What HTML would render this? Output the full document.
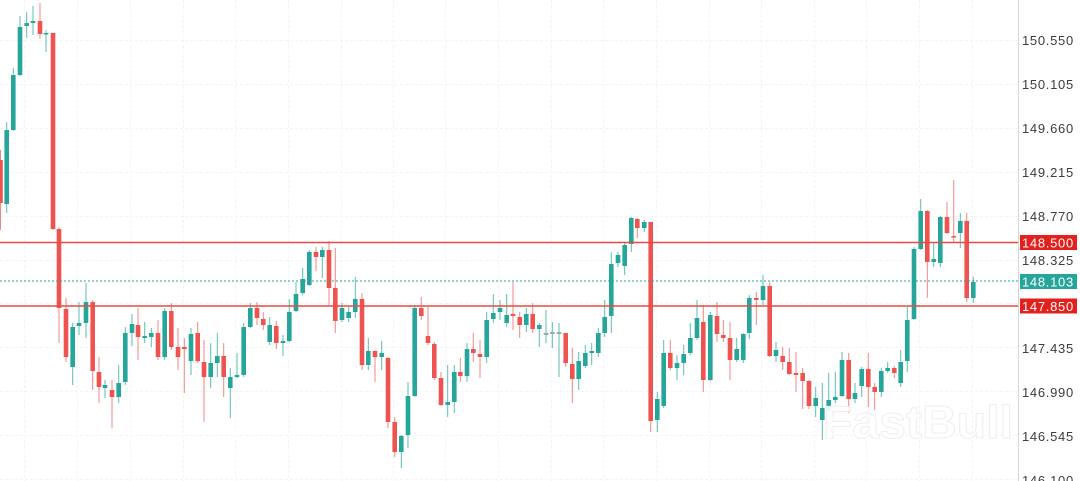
<!DOCTYPE html>
<html>
<head>
<meta charset="utf-8">
<style>
html,body{margin:0;padding:0;background:#fff;}
body{width:1080px;height:481px;overflow:hidden;}
svg{display:block;}
.lbl{font-family:"Liberation Sans",sans-serif;font-size:13px;fill:#3c3c3c;letter-spacing:0.7px;}
.tag{font-family:"Liberation Sans",sans-serif;font-size:13px;fill:#fff;letter-spacing:0.7px;}
</style>
</head>
<body>
<svg width="1080" height="481" viewBox="0 0 1080 481" xmlns="http://www.w3.org/2000/svg">
<rect x="0" y="0" width="1080" height="481" fill="#fff"/>
<g stroke="#f4f4f4" stroke-width="1" stroke-dasharray="3,2">
<line x1="0" y1="40.5" x2="1018" y2="40.5"/>
<line x1="0" y1="84.5" x2="1018" y2="84.5"/>
<line x1="0" y1="128.5" x2="1018" y2="128.5"/>
<line x1="0" y1="172.5" x2="1018" y2="172.5"/>
<line x1="0" y1="216.5" x2="1018" y2="216.5"/>
<line x1="0" y1="260.5" x2="1018" y2="260.5"/>
<line x1="0" y1="303.5" x2="1018" y2="303.5"/>
<line x1="0" y1="347.5" x2="1018" y2="347.5"/>
<line x1="0" y1="391.5" x2="1018" y2="391.5"/>
<line x1="0" y1="435.5" x2="1018" y2="435.5"/>
<line x1="0" y1="479.5" x2="1018" y2="479.5"/>
<line x1="24.5" y1="0" x2="24.5" y2="481"/>
<line x1="77.5" y1="0" x2="77.5" y2="481"/>
<line x1="130.5" y1="0" x2="130.5" y2="481"/>
<line x1="183.5" y1="0" x2="183.5" y2="481"/>
<line x1="235.5" y1="0" x2="235.5" y2="481"/>
<line x1="288.5" y1="0" x2="288.5" y2="481"/>
<line x1="341.5" y1="0" x2="341.5" y2="481"/>
<line x1="393.5" y1="0" x2="393.5" y2="481"/>
<line x1="445.5" y1="0" x2="445.5" y2="481"/>
<line x1="498.5" y1="0" x2="498.5" y2="481"/>
<line x1="551.5" y1="0" x2="551.5" y2="481"/>
<line x1="603.5" y1="0" x2="603.5" y2="481"/>
<line x1="656.5" y1="0" x2="656.5" y2="481"/>
<line x1="709.5" y1="0" x2="709.5" y2="481"/>
<line x1="761.5" y1="0" x2="761.5" y2="481"/>
<line x1="814.5" y1="0" x2="814.5" y2="481"/>
<line x1="866.5" y1="0" x2="866.5" y2="481"/>
<line x1="919.5" y1="0" x2="919.5" y2="481"/>
<line x1="972.5" y1="0" x2="972.5" y2="481"/>
</g>
<g fill="#26a69a" stroke="#26a69a">
<g stroke-width="1" fill="none" stroke-opacity="0.75">
<line x1="6.7" y1="122" x2="6.7" y2="213"/>
<line x1="13.3" y1="68" x2="13.3" y2="131"/>
<line x1="20" y1="16" x2="20" y2="76"/>
<line x1="26.7" y1="12" x2="26.7" y2="38"/>
<line x1="33" y1="6" x2="33" y2="35"/>
<line x1="46" y1="30" x2="46" y2="52"/>
<line x1="72.7" y1="323" x2="72.7" y2="385"/>
<line x1="79" y1="302" x2="79" y2="335"/>
<line x1="86" y1="283" x2="86" y2="338"/>
<line x1="105" y1="380" x2="105" y2="398"/>
<line x1="118.7" y1="365" x2="118.7" y2="403"/>
<line x1="125.3" y1="327" x2="125.3" y2="385"/>
<line x1="132" y1="314" x2="132" y2="346"/>
<line x1="144.7" y1="322" x2="144.7" y2="343"/>
<line x1="151.3" y1="328" x2="151.3" y2="347"/>
<line x1="164.7" y1="308" x2="164.7" y2="360"/>
<line x1="191" y1="328" x2="191" y2="375"/>
<line x1="210.7" y1="343" x2="210.7" y2="388"/>
<line x1="217.3" y1="333" x2="217.3" y2="377"/>
<line x1="230.3" y1="368" x2="230.3" y2="418"/>
<line x1="237" y1="353" x2="237" y2="378"/>
<line x1="243.7" y1="323" x2="243.7" y2="377"/>
<line x1="250.3" y1="303" x2="250.3" y2="328"/>
<line x1="269.7" y1="317" x2="269.7" y2="345"/>
<line x1="283" y1="335" x2="283" y2="356"/>
<line x1="289.3" y1="299" x2="289.3" y2="342"/>
<line x1="296" y1="282" x2="296" y2="312"/>
<line x1="302.7" y1="268" x2="302.7" y2="295"/>
<line x1="309.3" y1="250" x2="309.3" y2="286"/>
<line x1="322.3" y1="247" x2="322.3" y2="278"/>
<line x1="342" y1="303" x2="342" y2="322"/>
<line x1="348.7" y1="307" x2="348.7" y2="322"/>
<line x1="355.3" y1="277" x2="355.3" y2="318"/>
<line x1="368.3" y1="338" x2="368.3" y2="370"/>
<line x1="381.7" y1="341" x2="381.7" y2="370"/>
<line x1="401.3" y1="435" x2="401.3" y2="468"/>
<line x1="408" y1="382" x2="408" y2="448"/>
<line x1="414.7" y1="305" x2="414.7" y2="397"/>
<line x1="447.7" y1="365" x2="447.7" y2="417"/>
<line x1="454.3" y1="365" x2="454.3" y2="413"/>
<line x1="467" y1="343" x2="467" y2="382"/>
<line x1="486.7" y1="312" x2="486.7" y2="363"/>
<line x1="493.3" y1="294" x2="493.3" y2="323"/>
<line x1="500" y1="300" x2="500" y2="320"/>
<line x1="506.7" y1="294" x2="506.7" y2="327"/>
<line x1="526.3" y1="308" x2="526.3" y2="332"/>
<line x1="539.3" y1="323" x2="539.3" y2="347"/>
<line x1="546" y1="310" x2="546" y2="343"/>
<line x1="552.3" y1="322" x2="552.3" y2="348"/>
<line x1="559" y1="323" x2="559" y2="377"/>
<line x1="578.7" y1="352" x2="578.7" y2="390"/>
<line x1="585.3" y1="345" x2="585.3" y2="368"/>
<line x1="591.7" y1="343" x2="591.7" y2="365"/>
<line x1="598.3" y1="328" x2="598.3" y2="357"/>
<line x1="604.7" y1="300" x2="604.7" y2="337"/>
<line x1="611.3" y1="252" x2="611.3" y2="333"/>
<line x1="618" y1="252" x2="618" y2="267"/>
<line x1="624.7" y1="242" x2="624.7" y2="275"/>
<line x1="631.3" y1="217" x2="631.3" y2="252"/>
<line x1="644.3" y1="220" x2="644.3" y2="232"/>
<line x1="657.3" y1="392" x2="657.3" y2="432"/>
<line x1="663.7" y1="340" x2="663.7" y2="408"/>
<line x1="677" y1="355" x2="677" y2="380"/>
<line x1="683.7" y1="345" x2="683.7" y2="375"/>
<line x1="690.3" y1="323" x2="690.3" y2="355"/>
<line x1="697" y1="300" x2="697" y2="340"/>
<line x1="710.3" y1="312" x2="710.3" y2="381"/>
<line x1="736.7" y1="338" x2="736.7" y2="362"/>
<line x1="743.3" y1="333" x2="743.3" y2="363"/>
<line x1="749.3" y1="295" x2="749.3" y2="339"/>
<line x1="763" y1="275" x2="763" y2="305"/>
<line x1="776" y1="342" x2="776" y2="362"/>
<line x1="815.7" y1="387" x2="815.7" y2="417"/>
<line x1="822.3" y1="383" x2="822.3" y2="440"/>
<line x1="828.7" y1="373" x2="828.7" y2="412"/>
<line x1="835.3" y1="372" x2="835.3" y2="403"/>
<line x1="842" y1="352" x2="842" y2="397"/>
<line x1="855" y1="383" x2="855" y2="403"/>
<line x1="861.7" y1="367" x2="861.7" y2="397"/>
<line x1="881.3" y1="368" x2="881.3" y2="397"/>
<line x1="887.7" y1="362" x2="887.7" y2="373"/>
<line x1="900.7" y1="350" x2="900.7" y2="387"/>
<line x1="907.3" y1="307" x2="907.3" y2="372"/>
<line x1="914" y1="247" x2="914" y2="320"/>
<line x1="920.7" y1="199" x2="920.7" y2="250"/>
<line x1="933.7" y1="242" x2="933.7" y2="267"/>
<line x1="940.3" y1="216" x2="940.3" y2="267"/>
<line x1="960.3" y1="213" x2="960.3" y2="248"/>
<line x1="973.3" y1="277" x2="973.3" y2="303"/>
</g>
<g stroke="none">
<rect x="4.4" y="130" width="4.6" height="74"/>
<rect x="11.0" y="75" width="4.6" height="55"/>
<rect x="17.7" y="27" width="4.6" height="48"/>
<rect x="24.4" y="23" width="4.6" height="3"/>
<rect x="30.7" y="21" width="4.6" height="2"/>
<rect x="43.7" y="33" width="4.6" height="1.5"/>
<rect x="70.4" y="327" width="4.6" height="40"/>
<rect x="76.7" y="323" width="4.6" height="3"/>
<rect x="83.7" y="302" width="4.6" height="21"/>
<rect x="102.7" y="385" width="4.6" height="3"/>
<rect x="116.4" y="383" width="4.6" height="14"/>
<rect x="123.0" y="333" width="4.6" height="49"/>
<rect x="129.7" y="324" width="4.6" height="9"/>
<rect x="142.4" y="336" width="4.6" height="2"/>
<rect x="149.0" y="333" width="4.6" height="4"/>
<rect x="162.4" y="311" width="4.6" height="46"/>
<rect x="188.7" y="334" width="4.6" height="27"/>
<rect x="208.4" y="363" width="4.6" height="14"/>
<rect x="215.0" y="356" width="4.6" height="7"/>
<rect x="228.0" y="377" width="4.6" height="11"/>
<rect x="234.7" y="375" width="4.6" height="2"/>
<rect x="241.4" y="327" width="4.6" height="48"/>
<rect x="248.0" y="308" width="4.6" height="19"/>
<rect x="267.4" y="325" width="4.6" height="17"/>
<rect x="280.7" y="341" width="4.6" height="2"/>
<rect x="287.0" y="312" width="4.6" height="29"/>
<rect x="293.7" y="294" width="4.6" height="17"/>
<rect x="300.4" y="279" width="4.6" height="14"/>
<rect x="307.0" y="252" width="4.6" height="33"/>
<rect x="320.0" y="250" width="4.6" height="7"/>
<rect x="339.7" y="308" width="4.6" height="12"/>
<rect x="346.4" y="312" width="4.6" height="6"/>
<rect x="353.0" y="299" width="4.6" height="13"/>
<rect x="366.0" y="351" width="4.6" height="14"/>
<rect x="379.4" y="353" width="4.6" height="4"/>
<rect x="399.0" y="436" width="4.6" height="16"/>
<rect x="405.7" y="396" width="4.6" height="39"/>
<rect x="412.4" y="308" width="4.6" height="88"/>
<rect x="445.4" y="402" width="4.6" height="3"/>
<rect x="452.0" y="372" width="4.6" height="30"/>
<rect x="464.7" y="349" width="4.6" height="27"/>
<rect x="484.4" y="320" width="4.6" height="37"/>
<rect x="491.0" y="313" width="4.6" height="6"/>
<rect x="497.7" y="308" width="4.6" height="4"/>
<rect x="504.4" y="315" width="4.6" height="8"/>
<rect x="524.0" y="314" width="4.6" height="11"/>
<rect x="537.0" y="325" width="4.6" height="4"/>
<rect x="543.7" y="333" width="4.6" height="2" fill="#9aa"/>
<rect x="550.0" y="332" width="4.6" height="2" fill="#9aa"/>
<rect x="556.7" y="332" width="4.6" height="2" fill="#9aa"/>
<rect x="576.4" y="361" width="4.6" height="18"/>
<rect x="583.0" y="353" width="4.6" height="13"/>
<rect x="589.4" y="351" width="4.6" height="2"/>
<rect x="596.0" y="333" width="4.6" height="20"/>
<rect x="602.4" y="317" width="4.6" height="16"/>
<rect x="609.0" y="264" width="4.6" height="52"/>
<rect x="615.7" y="255" width="4.6" height="8"/>
<rect x="622.4" y="245" width="4.6" height="21"/>
<rect x="629.0" y="218" width="4.6" height="26"/>
<rect x="642.0" y="222" width="4.6" height="6"/>
<rect x="655.0" y="399" width="4.6" height="21"/>
<rect x="661.4" y="353" width="4.6" height="53"/>
<rect x="674.7" y="363" width="4.6" height="5"/>
<rect x="681.4" y="354" width="4.6" height="9"/>
<rect x="688.0" y="338" width="4.6" height="15"/>
<rect x="694.7" y="318" width="4.6" height="20"/>
<rect x="708.0" y="315" width="4.6" height="65"/>
<rect x="734.4" y="349" width="4.6" height="11"/>
<rect x="741.0" y="334" width="4.6" height="26"/>
<rect x="747.0" y="298" width="4.6" height="35"/>
<rect x="760.7" y="286" width="4.6" height="14"/>
<rect x="773.7" y="350" width="4.6" height="6"/>
<rect x="813.4" y="398" width="4.6" height="8"/>
<rect x="820.0" y="408" width="4.6" height="12"/>
<rect x="826.4" y="400" width="4.6" height="10"/>
<rect x="833.0" y="397" width="4.6" height="3"/>
<rect x="839.7" y="360" width="4.6" height="36"/>
<rect x="852.7" y="393" width="4.6" height="6"/>
<rect x="859.4" y="369" width="4.6" height="17"/>
<rect x="879.0" y="371" width="4.6" height="21"/>
<rect x="885.4" y="368" width="4.6" height="3"/>
<rect x="898.4" y="362" width="4.6" height="21"/>
<rect x="905.0" y="320" width="4.6" height="41"/>
<rect x="911.7" y="249" width="4.6" height="70"/>
<rect x="918.4" y="211" width="4.6" height="38"/>
<rect x="931.4" y="259" width="4.6" height="3"/>
<rect x="938.0" y="217" width="4.6" height="46"/>
<rect x="958.0" y="221" width="4.6" height="12"/>
<rect x="971.0" y="282" width="4.6" height="16"/>
</g>
</g>
<g fill="#ef5350" stroke="#ef5350">
<g stroke-width="1" fill="none" stroke-opacity="0.7">
<line x1="0.5" y1="150" x2="0.5" y2="230"/>
<line x1="40" y1="3" x2="40" y2="39"/>
<line x1="53" y1="33" x2="53" y2="230"/>
<line x1="59" y1="227" x2="59" y2="343"/>
<line x1="66" y1="298" x2="66" y2="362"/>
<line x1="92.7" y1="300" x2="92.7" y2="390"/>
<line x1="99" y1="357" x2="99" y2="403"/>
<line x1="112" y1="380" x2="112" y2="428"/>
<line x1="138" y1="308" x2="138" y2="360"/>
<line x1="158" y1="320" x2="158" y2="360"/>
<line x1="171.3" y1="303" x2="171.3" y2="350"/>
<line x1="178" y1="328" x2="178" y2="370"/>
<line x1="184.3" y1="338" x2="184.3" y2="393"/>
<line x1="197.7" y1="322" x2="197.7" y2="363"/>
<line x1="204" y1="340" x2="204" y2="422"/>
<line x1="223.7" y1="343" x2="223.7" y2="397"/>
<line x1="257" y1="302" x2="257" y2="325"/>
<line x1="263.3" y1="312" x2="263.3" y2="330"/>
<line x1="276.3" y1="321" x2="276.3" y2="349"/>
<line x1="316" y1="247" x2="316" y2="271"/>
<line x1="329" y1="241" x2="329" y2="305"/>
<line x1="335.3" y1="248" x2="335.3" y2="333"/>
<line x1="362" y1="293" x2="362" y2="370"/>
<line x1="375" y1="350" x2="375" y2="382"/>
<line x1="388" y1="357" x2="388" y2="428"/>
<line x1="394.7" y1="417" x2="394.7" y2="457"/>
<line x1="421.3" y1="297" x2="421.3" y2="320"/>
<line x1="428" y1="307" x2="428" y2="345"/>
<line x1="434.3" y1="342" x2="434.3" y2="380"/>
<line x1="441" y1="372" x2="441" y2="406"/>
<line x1="460.3" y1="358" x2="460.3" y2="382"/>
<line x1="473.3" y1="333" x2="473.3" y2="362"/>
<line x1="480" y1="340" x2="480" y2="378"/>
<line x1="513" y1="282" x2="513" y2="330"/>
<line x1="519.7" y1="312" x2="519.7" y2="338"/>
<line x1="532.7" y1="303" x2="532.7" y2="333"/>
<line x1="565.7" y1="333" x2="565.7" y2="367"/>
<line x1="572.3" y1="348" x2="572.3" y2="403"/>
<line x1="637.3" y1="218" x2="637.3" y2="238"/>
<line x1="650.7" y1="222" x2="650.7" y2="432"/>
<line x1="670.3" y1="340" x2="670.3" y2="370"/>
<line x1="703.3" y1="305" x2="703.3" y2="392"/>
<line x1="717" y1="302" x2="717" y2="342"/>
<line x1="723.3" y1="320" x2="723.3" y2="342"/>
<line x1="730" y1="322" x2="730" y2="380"/>
<line x1="756.3" y1="292" x2="756.3" y2="325"/>
<line x1="769.7" y1="282" x2="769.7" y2="357"/>
<line x1="782.7" y1="347" x2="782.7" y2="370"/>
<line x1="789.3" y1="348" x2="789.3" y2="375"/>
<line x1="796" y1="352" x2="796" y2="392"/>
<line x1="802.7" y1="368" x2="802.7" y2="409"/>
<line x1="809" y1="380" x2="809" y2="409"/>
<line x1="848.7" y1="353" x2="848.7" y2="413"/>
<line x1="868.3" y1="353" x2="868.3" y2="407"/>
<line x1="874.7" y1="383" x2="874.7" y2="410"/>
<line x1="894.3" y1="366" x2="894.3" y2="378"/>
<line x1="927.3" y1="210" x2="927.3" y2="298"/>
<line x1="947" y1="202" x2="947" y2="234"/>
<line x1="953.7" y1="180" x2="953.7" y2="243"/>
<line x1="966.7" y1="213" x2="966.7" y2="302"/>
</g>
<g stroke="none">
<rect x="-1.8" y="160" width="4.6" height="43"/>
<rect x="37.7" y="21" width="4.6" height="13"/>
<rect x="50.7" y="33" width="4.6" height="196"/>
<rect x="56.7" y="229" width="4.6" height="79"/>
<rect x="63.7" y="309" width="4.6" height="48"/>
<rect x="90.4" y="302" width="4.6" height="69"/>
<rect x="96.7" y="372" width="4.6" height="15"/>
<rect x="109.7" y="390" width="4.6" height="7"/>
<rect x="135.7" y="325" width="4.6" height="12"/>
<rect x="155.7" y="333" width="4.6" height="24"/>
<rect x="169.0" y="311" width="4.6" height="36"/>
<rect x="175.7" y="347" width="4.6" height="10"/>
<rect x="182.0" y="347" width="4.6" height="2"/>
<rect x="195.4" y="333" width="4.6" height="28"/>
<rect x="201.7" y="362" width="4.6" height="15"/>
<rect x="221.4" y="356" width="4.6" height="21"/>
<rect x="254.7" y="308" width="4.6" height="10"/>
<rect x="261.0" y="319" width="4.6" height="6"/>
<rect x="274.0" y="326" width="4.6" height="17"/>
<rect x="313.7" y="252" width="4.6" height="5"/>
<rect x="326.7" y="250" width="4.6" height="38"/>
<rect x="333.0" y="288" width="4.6" height="33"/>
<rect x="359.7" y="299" width="4.6" height="66"/>
<rect x="372.7" y="351" width="4.6" height="6"/>
<rect x="385.7" y="358" width="4.6" height="64"/>
<rect x="392.4" y="422" width="4.6" height="30"/>
<rect x="419.0" y="308" width="4.6" height="8"/>
<rect x="425.7" y="336" width="4.6" height="7"/>
<rect x="432.0" y="344" width="4.6" height="34"/>
<rect x="438.7" y="378" width="4.6" height="27"/>
<rect x="458.0" y="372" width="4.6" height="4"/>
<rect x="471.0" y="349" width="4.6" height="4"/>
<rect x="477.7" y="354" width="4.6" height="3"/>
<rect x="510.7" y="314" width="4.6" height="2"/>
<rect x="517.4" y="317" width="4.6" height="8"/>
<rect x="530.4" y="314" width="4.6" height="15"/>
<rect x="563.4" y="333" width="4.6" height="30"/>
<rect x="570.0" y="364" width="4.6" height="15"/>
<rect x="635.0" y="219" width="4.6" height="9"/>
<rect x="648.4" y="222" width="4.6" height="199"/>
<rect x="668.0" y="353" width="4.6" height="15"/>
<rect x="701.0" y="322" width="4.6" height="58"/>
<rect x="714.7" y="316" width="4.6" height="18"/>
<rect x="721.0" y="335" width="4.6" height="3"/>
<rect x="727.7" y="338" width="4.6" height="22"/>
<rect x="754.0" y="298" width="4.6" height="2"/>
<rect x="767.4" y="286" width="4.6" height="70"/>
<rect x="780.4" y="356" width="4.6" height="6"/>
<rect x="787.0" y="362" width="4.6" height="12"/>
<rect x="793.7" y="373" width="4.6" height="2"/>
<rect x="800.4" y="373" width="4.6" height="8"/>
<rect x="806.7" y="381" width="4.6" height="25"/>
<rect x="846.4" y="360" width="4.6" height="39"/>
<rect x="866.0" y="369" width="4.6" height="18"/>
<rect x="872.4" y="387" width="4.6" height="5"/>
<rect x="892.0" y="368" width="4.6" height="5"/>
<rect x="925.0" y="211" width="4.6" height="51"/>
<rect x="944.7" y="217" width="4.6" height="16"/>
<rect x="951.4" y="236" width="4.6" height="1.5"/>
<rect x="964.4" y="221" width="4.6" height="77"/>
</g>
</g>
<line x1="0" y1="242.5" x2="1019" y2="242.5" stroke="#e84a45" stroke-width="1.4"/>
<line x1="0" y1="306" x2="1019" y2="306" stroke="#e84a45" stroke-width="1.4"/>
<line x1="0" y1="281" x2="1019" y2="281" stroke="#26a69a" stroke-width="1" stroke-dasharray="2,2"/>
<text x="823" y="438" font-family="Liberation Sans, sans-serif" font-weight="bold" font-size="46" textLength="190" lengthAdjust="spacingAndGlyphs" fill="#ffffff" fill-opacity="0.9" stroke="#eeeeee" stroke-width="1">FastBull</text>
<rect x="1019" y="0" width="61" height="481" fill="#fff"/>
<line x1="1018.5" y1="0" x2="1018.5" y2="481" stroke="#d6d6d6" stroke-width="1"/>
<g class="lbl">
<text x="1022" y="45">150.550</text>
<text x="1022" y="89">150.105</text>
<text x="1022" y="133">149.660</text>
<text x="1022" y="177">149.215</text>
<text x="1022" y="221">148.770</text>
<text x="1022" y="265">148.325</text>
<text x="1022" y="353">147.435</text>
<text x="1022" y="397">146.990</text>
<text x="1022" y="441">146.545</text>
<text x="1022" y="485">146.100</text>
</g>
<rect x="1020" y="235" width="57" height="15" fill="#e3201c"/>
<text class="tag" x="1022" y="247.5">148.500</text>
<rect x="1020" y="274" width="57" height="15" fill="#26a69a"/>
<text class="tag" x="1022" y="286.5">148.103</text>
<rect x="1020" y="298.5" width="57" height="15" fill="#e3201c"/>
<text class="tag" x="1022" y="311">147.850</text>
</svg>
</body>
</html>
